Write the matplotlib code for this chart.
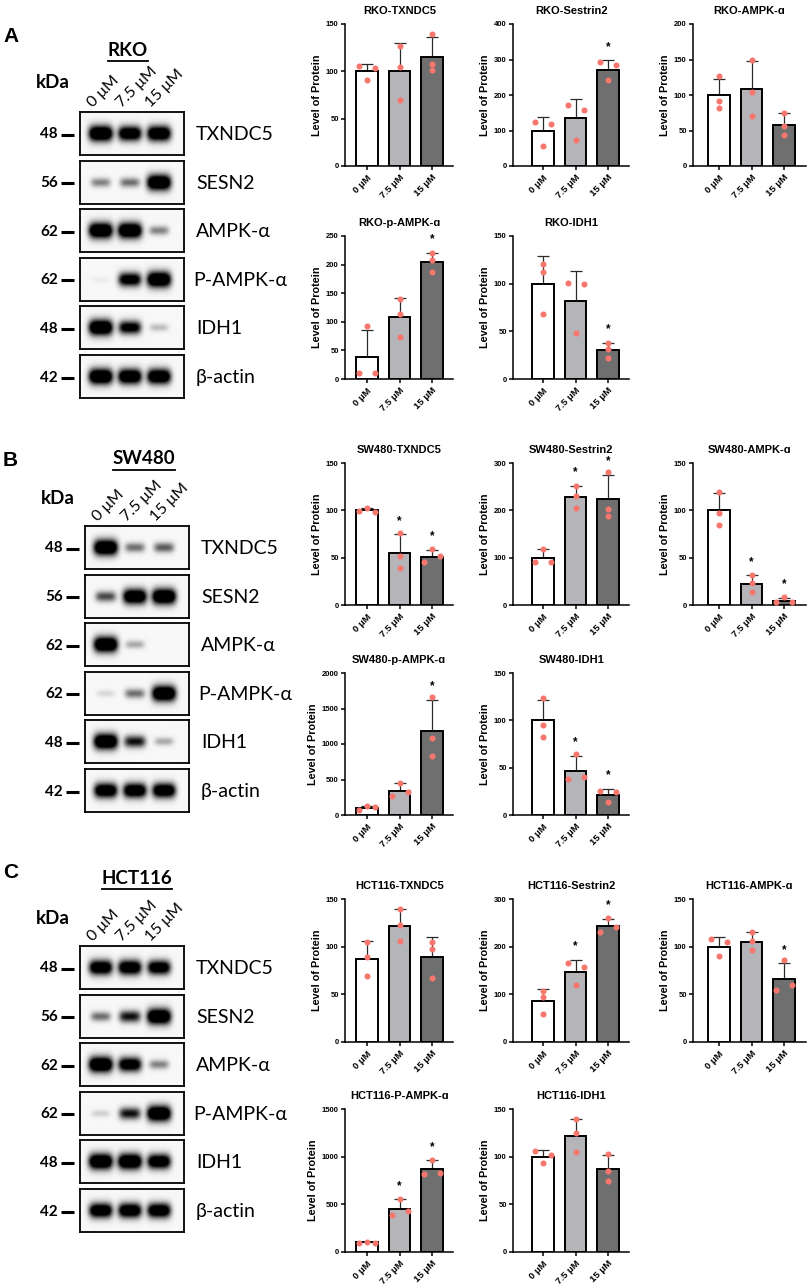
import numpy as np
import matplotlib
matplotlib.use("Agg")
import matplotlib.pyplot as plt

plt.rcParams["font.family"] = ["Liberation Sans", "DejaVu Sans"]

W, H = 809, 1285
fig = plt.figure(figsize=(W / 100, H / 100), dpi=100)

# ---------------- data ----------------
DOSES = ["0 μM", "7.5 μM", "15 μM"]
BLOT_ROWS = ["TXNDC5", "SESN2", "AMPK-α", "P-AMPK-α", "IDH1", "β-actin"]
KDA = ["48", "56", "62", "62", "48", "42"]
CELL_LINES = ["RKO", "SW480", "HCT116"]
PANEL_LETTERS = ["A", "B", "C"]

# band darkness per lane (0 = nothing, 1 = saturated)
RKO_BANDS = [[1.0, 0.9, 0.95], [0.3, 0.35, 1.0], [1.0, 1.0, 0.3],
             [0.03, 0.8, 1.0], [1.0, 0.75, 0.15], [1.0, 0.95, 0.95]]
SW480_BANDS = [[1.0, 0.35, 0.4], [0.45, 0.95, 1.0], [1.0, 0.2, 0.0],
               [0.08, 0.35, 1.0], [1.0, 0.6, 0.2], [0.9, 0.9, 0.9]]
HCT116_BANDS = [[0.9, 0.9, 0.85], [0.35, 0.6, 1.0], [1.0, 0.85, 0.3],
                [0.1, 0.6, 1.0], [1.0, 1.0, 0.9], [0.9, 0.9, 0.9]]

# quantification (mean, SD, replicate points, significance)
RKO_TITLES = ["RKO-TXNDC5", "RKO-Sestrin2", "RKO-AMPK-ɑ", "RKO-p-AMPK-ɑ", "RKO-IDH1"]
RKO_YMAX = [150, 400, 200, 250, 150]
RKO_YSTEP = [50, 100, 50, 50, 50]
RKO_MEANS = [[100, 100, 115], [100, 134, 271], [100, 108, 58], [38, 109, 205], [100, 82, 30]]
RKO_SD = [[8, 30, 21], [37, 55, 27], [23, 40, 16], [48, 33, 16], [29, 31, 8]]
RKO_POINTS = [
    [[106, 91, 103], [127, 105, 70], [139, 108, 101]],
    [[123, 57, 119], [171, 73, 158], [292, 242, 285]],
    [[127, 91, 81], [150, 104, 71], [74, 56, 44]],
    [[10, 93, 10], [140, 113, 73], [220, 208, 187]],
    [[121, 112, 68], [101, 48, 100], [38, 31, 22]],
]
RKO_STARS = [[0, 0, 0], [0, 0, 1], [0, 0, 0], [0, 0, 1], [0, 0, 1]]

SW480_TITLES = ["SW480-TXNDC5", "SW480-Sestrin2", "SW480-AMPK-ɑ", "SW480-p-AMPK-ɑ", "SW480-IDH1"]
SW480_YMAX = [150, 300, 150, 2000, 150]
SW480_YSTEP = [50, 100, 50, 500, 50]
SW480_MEANS = [[100, 55, 51], [100, 228, 223], [100, 22, 4.6], [100, 339, 1190], [100, 47, 21]]
SW480_SD = [[2.5, 19.5, 7.5], [18, 24, 52], [18, 9.5, 3], [30, 108, 430], [22, 15.5, 6.7]]
SW480_POINTS = [
    [[99, 102.5, 98.7], [76, 52, 39], [45.7, 59, 51.6]],
    [[90, 119, 90], [251, 230, 205], [282, 202, 188]],
    [[119, 97, 85], [31.6, 23.5, 13.7], [3.2, 8.1, 3.2]],
    [[70, 122, 113], [273, 452, 320], [1656, 1082, 838]],
    [[124, 95, 82], [38.5, 64, 40.6], [25.8, 14.1, 24.4]],
]
SW480_STARS = [[0, 1, 1], [0, 1, 1], [0, 1, 1], [0, 0, 1], [0, 1, 1]]

HCT116_TITLES = ["HCT116-TXNDC5", "HCT116-Sestrin2", "HCT116-AMPK-ɑ", "HCT116-P-AMPK-ɑ", "HCT116-IDH1"]
HCT116_YMAX = [150, 300, 150, 1500, 150]
HCT116_YSTEP = [50, 100, 50, 500, 50]
HCT116_MEANS = [[87, 122, 89], [85, 146, 243], [100, 105, 66.6], [100, 453, 868], [100, 122, 87]]
HCT116_SD = [[19, 17, 21], [26.5, 26, 15.5], [10, 10.5, 16], [10, 102, 94], [7, 18, 15]]
HCT116_POINTS = [
    [[105, 89, 69], [139, 123, 106], [105, 98, 67]],
    [[108, 94, 58.6], [165, 119, 158], [231, 261, 241]],
    [[108, 90, 104.6], [115, 105.7, 96.3], [54.8, 85.5, 60.3]],
    [[92, 110, 97], [383, 555, 432], [822, 969, 829]],
    [[106, 93, 102], [139, 125, 105], [103, 85, 74]],
]
HCT116_STARS = [[0, 0, 0], [0, 1, 1], [0, 0, 1], [0, 1, 1], [0, 0, 0]]

# ---------------- layout (pixels from top-left) ----------------
BAR_FILL = ["#ffffff", "#b4b4b9", "#6f6f6f"]
DOT_COLOR = "#f7776f"
BLOT_FONT = ["Lato", "DejaVu Sans"]

PANEL_LAYOUT = [
    # letter_y, title_x, title_y, kda_y, box_x, box_top
    (37, 128, 50, 82, 80, 112),
    (460, 144, 459, 498, 85, 526),
    (873, 137, 878, 918, 80, 946),
]
BOX_W, BOX_H, BOX_STEP = 104, 43, 48.6
LANE_FRAC = [0.2, 0.48, 0.76]

ROW_SPANS = [[(24, 166), (236, 379)], [(463, 605), (673, 815)], [(899, 1042), (1109, 1252)]]
SLOTS = [(0, 0), (0, 1), (0, 2), (1, 0), (1, 1)]
COL_LEFT = [345, 513, 693]
COL_BAR0 = [367, 543, 719]
BAR_STEP_PX = 32.5
RIGHT_PAD_PX = 21.5
DOT_SHIFT_PX = 8.0


def px_rect(x0, y0, x1, y1):
    return [x0 / W, 1 - y1 / H, (x1 - x0) / W, (y1 - y0) / H]


def dot_offsets(vals, thr):
    # GraphPad-like: points that would overlap are spread sideways
    vals = np.asarray(vals, float)
    order = np.argsort(vals, kind="stable")
    groups, cur = [], [order[0]]
    for a, b in zip(order[:-1], order[1:]):
        if vals[b] - vals[a] < thr:
            cur.append(b)
        else:
            groups.append(cur)
            cur = [b]
    groups.append(cur)
    off = np.zeros(len(vals))
    for g in groups:
        g = sorted(g)
        if len(g) > 1:
            off[g] = np.linspace(-1, 1, len(g))
    return off


def bar_chart(col, span, title, ymax, ystep, means, sds, pts, stars):
    top, bot = span
    left, b0 = COL_LEFT[col], COL_BAR0[col]
    right = b0 + 2 * BAR_STEP_PX + RIGHT_PAD_PX
    ax = fig.add_axes(px_rect(left, top, right, bot))
    ax.patch.set_alpha(0)
    x = np.arange(3)
    ax.errorbar(x, means, yerr=[np.zeros(3), sds], fmt="none", ecolor="#2b2b2b",
                elinewidth=0.9, capsize=4, capthick=0.9, zorder=2)
    ax.bar(x, means, width=0.65, color=BAR_FILL, edgecolor="black", linewidth=1.4, zorder=3)
    thr = 5.9 / (bot - top) * ymax
    for i in range(3):
        off = dot_offsets(pts[i], thr) * DOT_SHIFT_PX / BAR_STEP_PX
        ax.scatter(i + off, pts[i], s=19, color=DOT_COLOR, linewidths=0, zorder=4, clip_on=False)
        if stars[i]:
            ax.annotate("*", (i, means[i] + sds[i]), xytext=(0, 7.5), textcoords="offset points",
                        ha="center", va="baseline", fontsize=8.5, fontweight="bold")
    ax.set_xlim(-(b0 - left) / BAR_STEP_PX, 2 + RIGHT_PAD_PX / BAR_STEP_PX)
    ax.set_ylim(0, ymax)
    ax.set_yticks(np.arange(0, ymax + 1, ystep))
    ax.set_xticks(x)
    ax.set_xticklabels(DOSES, rotation=45, ha="right", rotation_mode="anchor",
                       fontsize=6.8, fontweight="bold")
    for lbl in ax.get_yticklabels():
        lbl.set_fontweight("bold")
    ax.tick_params(axis="y", length=3, width=1.1, labelsize=5.5, pad=1.5)
    ax.tick_params(axis="x", length=3, width=1.1, pad=2)
    for s in ["top", "right"]:
        ax.spines[s].set_visible(False)
    for s in ["left", "bottom"]:
        ax.spines[s].set_linewidth(1.1)
    ax.set_ylabel("Level of Protein", fontsize=7.8, fontweight="bold", labelpad=3)
    ax.set_title(title, fontsize=8, fontweight="bold", pad=7)


def blot(box_x, top, intens):
    ax = fig.add_axes(px_rect(box_x, top, box_x + BOX_W, top + BOX_H))
    h, w = 60, 150
    yy, xx = np.mgrid[0:h, 0:w]
    xx = (xx + 0.5) / w
    yy = (yy + 0.5) / h
    dark = np.zeros((h, w))
    for cx, v in zip(LANE_FRAC, intens):
        wx = 0.085 + 0.03 * v
        wy = 0.07 + 0.11 * v
        dark += v * np.exp(-np.abs((xx - cx) / wx) ** 4 - ((yy - 0.5) / wy) ** 2)
    img = 0.97 - 0.97 * np.clip(dark * 1.6, 0, 1)
    ax.imshow(img, cmap="gray", vmin=0, vmax=1, extent=(0, 1, 0, 1), aspect="auto",
              interpolation="bilinear")
    ax.set_xticks([])
    ax.set_yticks([])
    for s in ax.spines.values():
        s.set_linewidth(1.3)


bands = [RKO_BANDS, SW480_BANDS, HCT116_BANDS]
titles = [RKO_TITLES, SW480_TITLES, HCT116_TITLES]
ymaxs = [RKO_YMAX, SW480_YMAX, HCT116_YMAX]
ysteps = [RKO_YSTEP, SW480_YSTEP, HCT116_YSTEP]
means = [RKO_MEANS, SW480_MEANS, HCT116_MEANS]
sds = [RKO_SD, SW480_SD, HCT116_SD]
points = [RKO_POINTS, SW480_POINTS, HCT116_POINTS]
stars = [RKO_STARS, SW480_STARS, HCT116_STARS]

for p in range(3):
    for k, (r, c) in enumerate(SLOTS):
        bar_chart(c, ROW_SPANS[p][r], titles[p][k], ymaxs[p][k], ysteps[p][k],
                  means[p][k], sds[p][k], points[p][k], stars[p][k])
    box_x, box_top = PANEL_LAYOUT[p][4], PANEL_LAYOUT[p][5]
    for j in range(len(BLOT_ROWS)):
        blot(box_x, box_top + j * BOX_STEP, bands[p][j])

# overlay for the western blot annotations
ov = fig.add_axes([0, 0, 1, 1])
ov.set_xlim(0, W)
ov.set_ylim(H, 0)
ov.axis("off")
ov.patch.set_visible(False)

renderer = fig.canvas.get_renderer()
for p in range(3):
    letter_y, title_x, title_y, kda_y, box_x, box_top = PANEL_LAYOUT[p]
    ov.text(3, letter_y, PANEL_LETTERS[p], fontsize=15, fontweight="bold", va="center", ha="left")
    t = ov.text(title_x, title_y, CELL_LINES[p], fontsize=13.5, fontweight="bold",
                family=BLOT_FONT, ha="center", va="center")
    bb = t.get_window_extent(renderer)
    ov.plot([bb.x0, bb.x1], [H - bb.y0 + 2, H - bb.y0 + 2], color="black", lw=1.3)
    ov.text(box_x - 27, kda_y, "kDa", fontsize=13.5, fontweight="bold", family=BLOT_FONT,
            ha="center", va="center")
    for i, dose in enumerate(DOSES):
        ov.text(box_x + LANE_FRAC[i] * BOX_W - 8, box_top - 4, dose, fontsize=11.5,
                family=BLOT_FONT, rotation=45, rotation_mode="anchor", ha="left", va="baseline")
    for j, name in enumerate(BLOT_ROWS):
        yc = box_top + j * BOX_STEP + BOX_H / 2 + 1
        ov.text(box_x - 22, yc, KDA[j], fontsize=11, fontweight="bold", family=BLOT_FONT,
                ha="right", va="center")
        ov.plot([box_x - 19, box_x - 6], [yc, yc], color="black", lw=2.2, solid_capstyle="butt")
        dx = 9 if name.startswith("P-") else 12
        ov.text(box_x + BOX_W + dx, yc, name, fontsize=14, family=BLOT_FONT,
                ha="left", va="center")

fig.savefig("out.png", dpi=100)
